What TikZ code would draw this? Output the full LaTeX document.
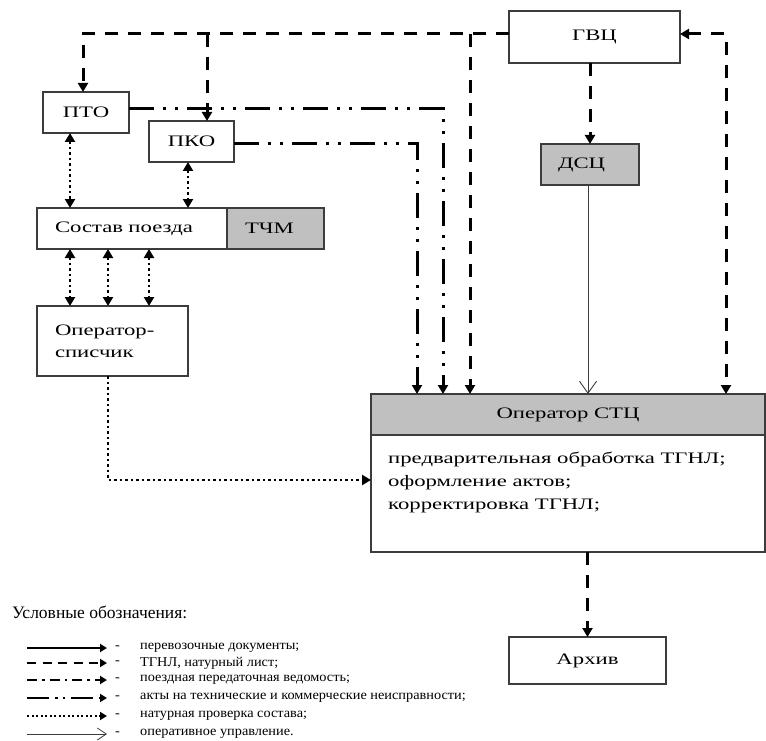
\documentclass[tikz,border=0pt]{standalone}
\usepackage{fontspec}
\setmainfont{Liberation Serif}
\newfontfamily\widefont{Liberation Serif}[FakeStretch=1.42]
\newfontfamily\legfont{Liberation Serif}[FakeStretch=1.06]
\usetikzlibrary{arrows.meta}
\definecolor{boxgray}{RGB}{192,192,192}
\definecolor{edge}{RGB}{60,60,60}
\begin{document}
\begin{tikzpicture}[x=1pt,y=-1pt,
  box/.style={draw=edge, line width=1.2pt, inner sep=0pt, outer sep=0pt,
    font=\widefont\fontsize{16}{22}\selectfont},
  gbox/.style={box, fill=boxgray},
  tip/.style={-{Triangle[length=9pt,width=10pt]}},
  bitip/.style={{Triangle[length=9pt,width=10pt]}-{Triangle[length=9pt,width=10pt]}},
  ltip/.style={-{Triangle[length=7pt,width=8pt]}},
  tgnl/.style={line width=3pt, dash pattern=on 13pt off 10pt},
  akt/.style={line width=3pt, dash pattern=on 25pt off 9pt on 3pt off 9pt on 3pt off 9pt},
  nat/.style={line width=2.5pt, dash pattern=on 2.5pt off 3pt},
  oper/.style={draw=edge, line width=0.9pt, -{Straight Barb[length=12pt,width=17pt]}},
  ldoc/.style={line width=2.5pt},
  ltgnl/.style={line width=2.5pt, dash pattern=on 9pt off 6.5pt},
  lppv/.style={line width=2.5pt, dash pattern=on 10pt off 5pt on 2.5pt off 5pt},
  lakt/.style={line width=2.5pt, dash pattern=on 22pt off 6pt on 2.5pt off 5pt on 2.5pt off 6pt},
  lnat/.style={line width=2pt, dash pattern=on 2pt off 2.5pt},
  loper/.style={draw=edge, line width=0.8pt, -{Straight Barb[length=9pt,width=12pt]}},
  legtext/.style={font=\legfont\fontsize{13.5}{16}\selectfont, anchor=west, inner sep=0pt},
]
\useasboundingbox (0,0) rectangle (766,741);

% boxes
\node[box, minimum width=171pt, minimum height=52pt] (gvc) at (594.5,37) {ГВЦ};
\node[gbox, minimum width=98pt, minimum height=41pt, align=left, text width=64pt, inner xsep=17pt] (dsc) at (590,164.5) {ДСЦ};
\node[box, minimum width=86pt, minimum height=41pt] (pto) at (86,112.5) {ПТО};
\node[box, fill=white, minimum width=85pt, minimum height=41pt] (pko) at (191.5,141.5) {ПКО};
\node[box, minimum width=190pt, minimum height=41pt, align=left, text width=154pt, inner xsep=18pt] (sostav) at (132,228.5) {Состав поезда};
\node[gbox, minimum width=97pt, minimum height=41pt, align=left, text width=61pt, inner xsep=18pt] (tchm) at (275.5,228.5) {ТЧМ};
\node[box, minimum width=151pt, minimum height=70pt, align=left, text width=115pt, inner xsep=18pt] (opsp) at (112.5,341) {Оператор-\\списчик};
\node[box, minimum width=394pt, minimum height=158pt] (stc) at (568,473) {};
\node[gbox, minimum width=394pt, minimum height=41pt] (stch) at (568,414.5) {Оператор СТЦ};
\node[font=\widefont\fontsize{16}{23}\selectfont, anchor=north west, align=left, inner sep=0pt] (stct) at (388,452)
  {предварительная обработка ТГНЛ;\\оформление актов;\\корректировка ТГНЛ;};
\node[box, minimum width=157pt, minimum height=47pt] (arch) at (587.5,660.5) {Архив};

% helper coordinates
\coordinate (j1) at (207,34);
\coordinate (j2) at (470,34);
\coordinate (rgt) at (726,34);
\coordinate (c443) at (443,109);
\coordinate (c417) at (417,144);
\coordinate (d1) at (70,0);
\coordinate (d2) at (188,0);
\coordinate (d3) at (108,0);
\coordinate (d4) at (149,0);

% dashed TGNL
\draw[tgnl,tip] ([yshift=3pt]gvc.west) -| ([xshift=-3pt]pto.north);
\draw[tgnl,tip] (j1) -- (j1 |- pko.north);
\draw[tgnl,tip] (j2) -- (j2 |- stc.north);
\draw[tgnl,bitip] ([yshift=3pt]gvc.east) -| (rgt |- stc.north);
\draw[tgnl,tip] (dsc.north |- gvc.south) -- (dsc.north);
\draw[tgnl,tip] (stc.south -| arch.north) -- (arch.north);

% acts
\draw[akt,tip] ([yshift=3.5pt]pto.east) -| (c443 |- stc.north);
\draw[akt,tip] ([yshift=-2.5pt]pko.east) -| (c417 |- stc.north);

% operative control
\draw[oper] ([xshift=-2pt]dsc.south) -- ([xshift=-2pt]dsc.south |- stc.north);

% natural check
\draw[nat,bitip] (pto.south -| d1) -- (sostav.north -| d1);
\draw[nat,bitip] (pko.south -| d2) -- (sostav.north -| d2);
\draw[nat,bitip] (sostav.south -| d1) -- (opsp.north -| d1);
\draw[nat,bitip] (sostav.south -| d3) -- (opsp.north -| d3);
\draw[nat,bitip] (sostav.south -| d4) -- (opsp.north -| d4);
\draw[nat,tip] (opsp.south -| d3) |- ([yshift=-7pt]stc.west);

% legend
\node[font=\fontsize{17.5}{20}\selectfont, anchor=west, inner sep=0pt] (legt) at (12,612) {Условные обозначения:};
\foreach \i/\y in {1/648,2/663,3/680,4/698,5/716,6/734}{
  \coordinate (ls\i) at (27,\y);
  \coordinate (le\i) at (107,\y);
  \node[legtext] (lm\i) at (115,\y) {-};
}
\draw[ldoc,ltip] (ls1) -- (le1);
\draw[ltgnl,ltip] (ls2) -- (le2);
\draw[lppv,ltip] (ls3) -- (le3);
\draw[lakt,ltip] (ls4) -- (le4);
\draw[lnat,ltip] (ls5) -- (le5);
\draw[loper] (ls6) -- (le6);
\node[legtext] (lt1) at (140,648) {перевозочные документы;};
\node[legtext] (lt2) at (140,663) {ТГНЛ, натурный лист;};
\node[legtext] (lt3) at (140,680) {поездная передаточная ведомость;};
\node[legtext] (lt4) at (140,698) {акты на технические и коммерческие неисправности;};
\node[legtext] (lt5) at (140,716) {натурная проверка состава;};
\node[legtext] (lt6) at (140,734) {оперативное управление.};
\end{tikzpicture}
\end{document}
